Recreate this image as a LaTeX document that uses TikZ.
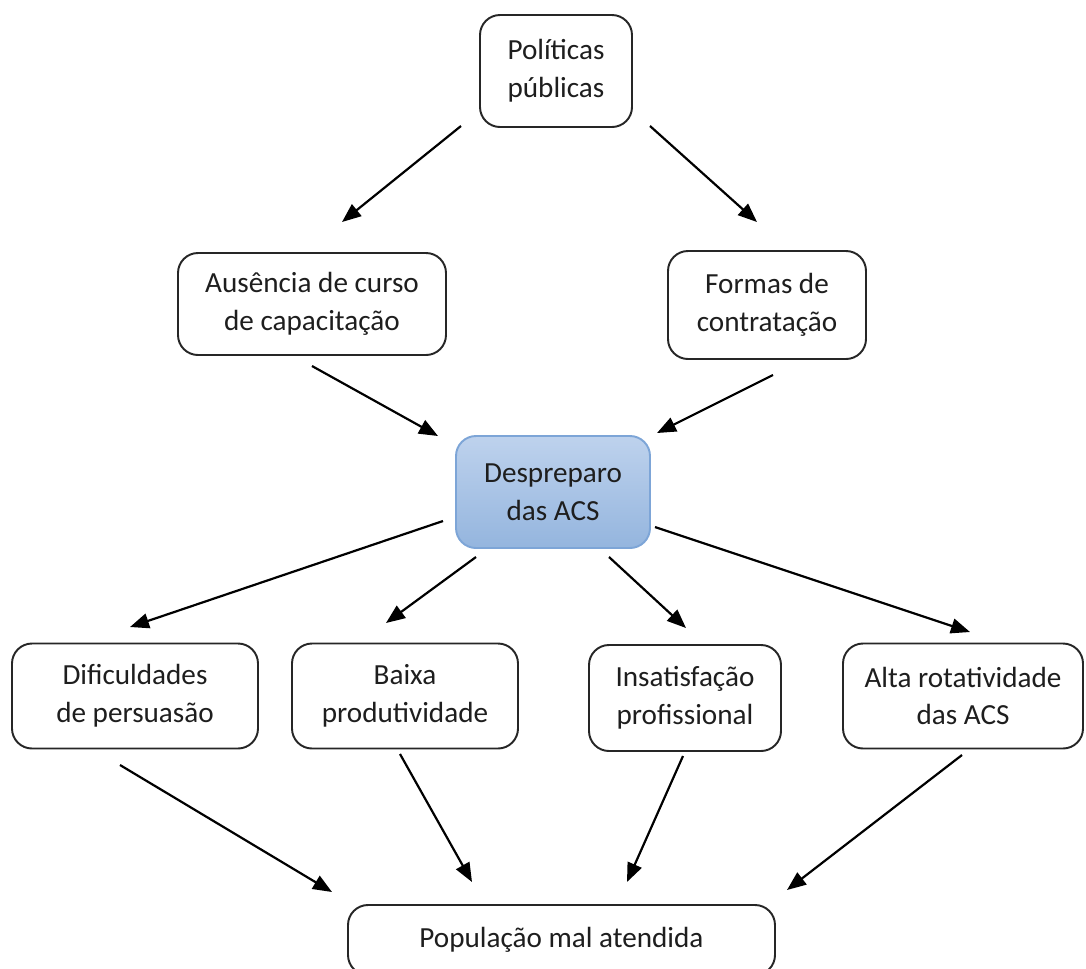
\documentclass[tikz,border=0pt]{standalone}
\usepackage{fontspec}
\setmainfont{Carlito}
\usetikzlibrary{arrows.meta}
\definecolor{bluetop}{RGB}{190,210,237}
\definecolor{bluebot}{RGB}{148,181,222}
\definecolor{blueedge}{RGB}{125,165,215}
\definecolor{txt}{RGB}{30,30,30}
\tikzset{
  box/.style={draw=black!85, line width=1.1pt, rounded corners=0.4cm, fill=white,
    align=center, font=\fontsize{16.6}{21.5}\selectfont, text=txt, inner sep=0pt},
  hub/.style={box, draw=blueedge, top color=bluetop, bottom color=bluebot},
  arr/.style={line width=1.25pt, -{Triangle[length=0.38cm,width=0.3cm]}}
}
\begin{document}
\begin{tikzpicture}[x=0.02cm,y=-0.02cm]
\useasboundingbox (0,0) rectangle (1086,968);
\node[box, minimum width=152*0.02cm, minimum height=112*0.02cm] (pol) at (556,71) {Políticas\\públicas};
\node[box, minimum width=268*0.02cm, minimum height=102*0.02cm] (aus) at (312,304) {Ausência de curso\\de capacitação};
\node[box, minimum width=198*0.02cm, minimum height=108*0.02cm] (for) at (767,305) {Formas de\\contratação};
\node[hub, minimum width=194*0.02cm, minimum height=112*0.02cm] (des) at (553,492) {Despreparo\\das ACS};
\node[box, minimum width=246*0.02cm, minimum height=105*0.02cm] (dif) at (135,696) {Dificuldades\\de persuasão};
\node[box, minimum width=226*0.02cm, minimum height=105*0.02cm] (bai) at (405,696) {Baixa\\produtividade};
\node[box, minimum width=192*0.02cm, minimum height=106*0.02cm] (ins) at (685,698) {Insatisfação\\profissional};
\node[box, minimum width=240*0.02cm, minimum height=105*0.02cm] (alt) at (963,696) {Alta rotatividade\\das ACS};
\node[box, minimum width=427*0.02cm, minimum height=70*0.02cm] (pop) at (561.5,940) {População mal atendida};

\draw[arr] ([shift={(-95,55)}]pol.center) -- ([shift={(30,-82)}]aus.center);
\draw[arr] ([shift={(94,55)}]pol.center) -- ([shift={(-10,-83)}]for.center);
\draw[arr] ([shift={(0,62)}]aus.center) -- ([shift={(-115,-56)}]des.center);
\draw[arr] ([shift={(6,70)}]for.center) -- ([shift={(104,-59)}]des.center);
\draw[arr] ([shift={(-110,29)}]des.center) -- ([shift={(-5,-69)}]dif.center);
\draw[arr] ([shift={(-77,65)}]des.center) -- ([shift={(-19,-73)}]bai.center);
\draw[arr] ([shift={(56,65)}]des.center) -- ([shift={(1,-70)}]ins.center);
\draw[arr] ([shift={(102,35)}]des.center) -- ([shift={(7,-64)}]alt.center);
\draw[arr] ([shift={(-15,69)}]dif.center) -- ([shift={(-229.5,-48)}]pop.center);
\draw[arr] ([shift={(-5,58)}]bai.center) -- ([shift={(-89.5,-58)}]pop.center);
\draw[arr] ([shift={(-2,58)}]ins.center) -- ([shift={(65.5,-58)}]pop.center);
\draw[arr] ([shift={(-1,59)}]alt.center) -- ([shift={(225.5,-50)}]pop.center);
\end{tikzpicture}
\end{document}
